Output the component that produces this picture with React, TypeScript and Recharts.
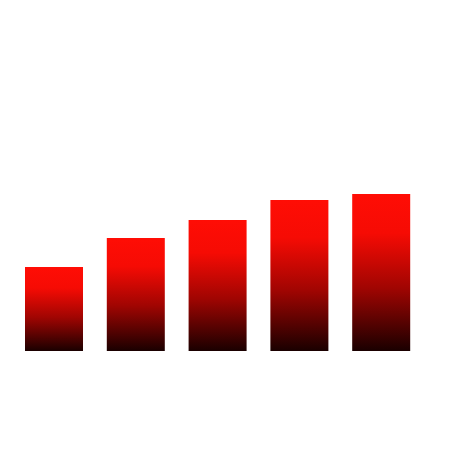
import { BarChart, Bar, XAxis, YAxis } from "recharts";

// five bars, no axes or labels in the reference
const categories = ["A", "B", "C", "D", "E"];
const values = [84, 113, 131, 151, 157];

const data = categories.map((label, i) => ({ label, value: values[i] }));

export default function App() {
  return (
    <div style={{ margin: -8, width: 450, height: 450, background: "#fff" }}>
      <BarChart width={450} height={450} data={data} margin={{ top: 101, right: 28, bottom: 99, left: 13 }}>
        <defs>
          <linearGradient id="redFade" x1="0" y1="0" x2="0" y2="1">
            <stop offset="0%" stopColor="#ff0d05" />
            <stop offset="25%" stopColor="#f60b04" />
            <stop offset="60%" stopColor="#a00502" />
            <stop offset="100%" stopColor="#1a0000" />
          </linearGradient>
        </defs>
        <XAxis dataKey="label" hide />
        <YAxis hide domain={[0, 250]} />
        <Bar dataKey="value" fill="url(#redFade)" barSize={58} isAnimationActive={false} />
      </BarChart>
    </div>
  );
}
